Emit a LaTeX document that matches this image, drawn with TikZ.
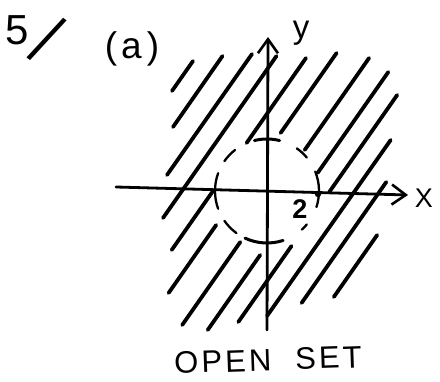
\documentclass[tikz,border=0pt]{standalone}
\usepackage{fontspec}
\setmainfont{Liberation Sans}
\newfontfamily\spaced[LetterSpace=10]{Liberation Sans}
\usetikzlibrary{arrows.meta}
\begin{document}
\begin{tikzpicture}[x=1pt,y=-1pt,
  hatch/.style={line width=3.8pt, line cap=round},
  axis/.style={line width=2.8pt, line cap=round},
  dashc/.style={line width=2.3pt, line cap=round},
  tick/.style={line width=3pt, line cap=round},
  lbl/.style={inner sep=0pt, outer sep=0pt, anchor=center},
  barb/.style={-{Straight Barb[length=14pt,width=20pt,line width=2.6pt]}}]
\useasboundingbox (0,0) rectangle (440,382);

% hatching
\draw[hatch] (172,91) -- (193,61);
\draw[hatch] (173,127) -- (222.5,56);
\draw[hatch] (167,175) -- (252,54);
\draw[hatch] (163,218) -- (276.5,56);
\draw[hatch] (171.7,250) -- (213,191);
\draw[hatch] (246.6,143) -- (306,58);
\draw[hatch] (168.6,293) -- (216.2,225);
\draw[hatch] (280.6,133) -- (336.6,53);
\draw[hatch] (182.2,325) -- (240.3,242);
\draw[hatch] (304.7,150) -- (369.1,58);
\draw[hatch] (207.7,330) -- (260.2,255);
\draw[hatch] (317.6,173) -- (388.3,72);
\draw[hatch] (238.3,322) -- (291.5,246);
\draw[hatch] (329.3,192) -- (397.2,95);
\draw[hatch] (267,316) -- (390.7,140);
\draw[hatch] (301.6,303) -- (386.3,182);
\draw[hatch] (333.8,297) -- (377.2,235);

% axes
\coordinate (O) at (267,191);
\coordinate (xl) at (116,187);
\coordinate (xr) at (408,195);
\coordinate (yb) at (267,330);
\coordinate (yt) at (268,37);
\draw[axis, barb] (xl) -- (xr);
\draw[axis, barb] (yb) -- (yt);

% dashed circle
\draw[tick]  (O) ++(-104:52) arc[start angle=-104, end angle=-76, radius=52];
\draw[dashc] (O) ++(-55:52) arc[start angle=-55, end angle=-40, radius=52];
\draw[dashc] (O) ++(-22:52) arc[start angle=-22, end angle=18, radius=52];
\draw[dashc] (O) ++(40:52) arc[start angle=40, end angle=48, radius=52];
\draw[tick]  (O) ++(72:52) arc[start angle=72, end angle=115, radius=52];
\draw[dashc] (O) ++(126:52) arc[start angle=126, end angle=145, radius=52];
\draw[dashc] (O) ++(160:52) arc[start angle=160, end angle=200, radius=52];
\draw[dashc] (O) ++(215:52) arc[start angle=215, end angle=232, radius=52];
\fill (318,194) circle[radius=3.2pt];

% labels
\node[inner sep=0pt, outer sep=0pt, anchor=base west, font=\fontsize{42}{42}\selectfont] (five) at (5.6,45)
  {5\hspace{-2pt}\raisebox{-12pt}{\rotatebox{-37}{\scalebox{1}[1.9]{\fontsize{38}{38}\selectfont\bfseries /}}}};
\node[lbl, font=\fontsize{37}{37}\selectfont] (parta) at (132,49) {(\hspace{4pt}a\hspace{5pt})};
\node[lbl, font=\fontsize{33}{33}\selectfont] (ylab) at (301,33) {y};
\node[lbl, font=\fontsize{27}{27}\selectfont] (xlab) at (424,198) {X};
\node[lbl, font=\fontsize{27}{27}\selectfont\bfseries] (two) at (300,209) {2};
\node[lbl, rotate=2, font=\fontsize{31}{31}\spaced] (caption) at (268,360) {OPEN\hspace{24pt}SET};
\end{tikzpicture}
\end{document}
